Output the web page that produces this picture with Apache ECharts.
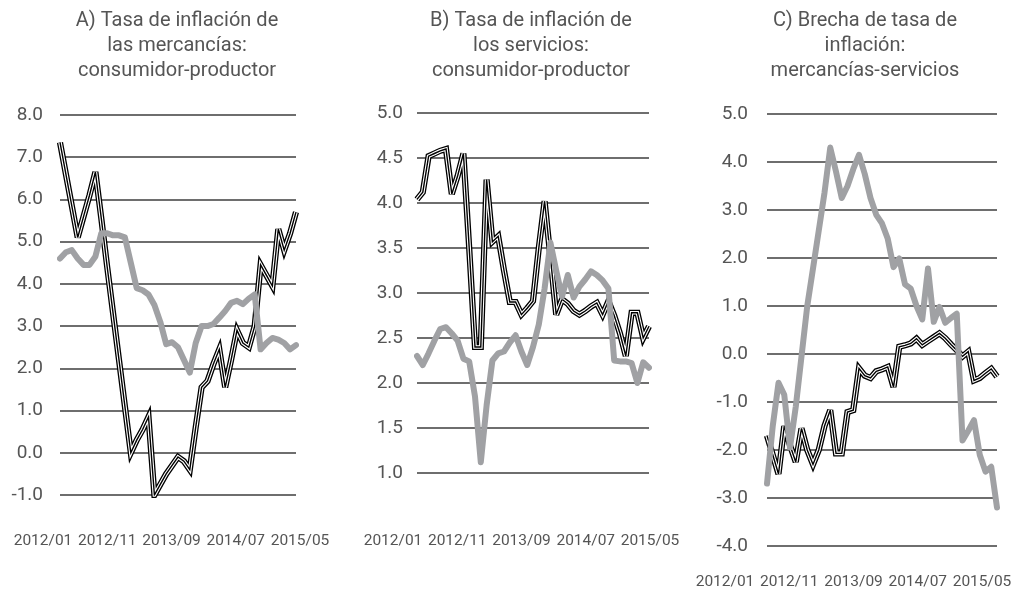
<!DOCTYPE html>
<html>
<head>
<meta charset="utf-8">
<script src="https://cdn.jsdelivr.net/npm/echarts@6/dist/echarts.min.js"></script>
<style>
    html, body { margin: 0; padding: 0; background: #fff; }
    #chart { width: 1017px; height: 594px; }
</style>
</head>
<body>
<div id="chart"></div>
<script>
// Meses 2012/01 - 2015/05
const months = [
    '2012/01', '2012/02', '2012/03', '2012/04', '2012/05', '2012/06', '2012/07', '2012/08', '2012/09', '2012/10', '2012/11', '2012/12',
    '2013/01', '2013/02', '2013/03', '2013/04', '2013/05', '2013/06', '2013/07', '2013/08', '2013/09', '2013/10', '2013/11', '2013/12',
    '2014/01', '2014/02', '2014/03', '2014/04', '2014/05', '2014/06', '2014/07', '2014/08', '2014/09', '2014/10', '2014/11', '2014/12',
    '2015/01', '2015/02', '2015/03', '2015/04', '2015/05'
];
const tickLabels = ['2012/01', '2012/11', '2013/09', '2014/07', '2015/05'];

// A) mercancías
const goodsBlack = [7.35, 6.6, 5.85, 5.1, 5.6, 6.1, 6.65, 5.55, 4.4, 3.3, 2.2, 1.1, 0.0, 0.3, 0.55, 0.85, -1.0, -0.75, -0.5, -0.3,
    -0.1, -0.2, -0.4, 0.6, 1.55, 1.7, 2.1, 2.45, 1.55, 2.2, 2.9, 2.6, 2.5, 3.0, 4.45, 4.2, 3.95, 5.3, 4.8, 5.2, 5.7];
const goodsGray = [4.6, 4.75, 4.8, 4.6, 4.45, 4.45, 4.65, 5.2, 5.2, 5.15, 5.15, 5.1, 4.5, 3.9, 3.85, 3.75, 3.5, 3.1, 2.57, 2.62,
    2.5, 2.2, 1.9, 2.6, 3.0, 3.0, 3.05, 3.2, 3.36, 3.55, 3.6, 3.52, 3.65, 3.75, 2.45, 2.6, 2.72, 2.68, 2.6, 2.45, 2.55];

// B) servicios
const servicesBlack = [4.04, 4.12, 4.52, 4.55, 4.58, 4.6, 4.1, 4.3, 4.55, 3.5, 2.4, 2.4, 4.26, 3.57, 3.63, 3.25, 2.9, 2.9, 2.76, 2.83,
    2.91, 3.5, 4.02, 3.4, 2.76, 2.93, 2.88, 2.8, 2.76, 2.8, 2.85, 2.89, 2.76, 2.91, 2.75, 2.55, 2.3, 2.78, 2.78, 2.5, 2.63];
const servicesGray = [2.3, 2.2, 2.33, 2.47, 2.6, 2.62, 2.55, 2.47, 2.27, 2.24, 1.85, 1.12, 1.75, 2.25, 2.33, 2.35, 2.45, 2.53, 2.35, 2.2,
    2.4, 2.65, 3.05, 3.56, 3.25, 2.96, 3.2, 2.95, 3.07, 3.15, 3.24, 3.2, 3.14, 3.05, 2.25, 2.24, 2.24, 2.22, 2.0, 2.23, 2.17];

// C) brecha mercancías-servicios
const gapBlack = [-1.7, -2.1, -2.5, -1.5, -1.9, -2.25, -1.55, -2.0, -2.3, -2.0, -1.5, -1.17, -2.07, -2.07, -1.21, -1.17, -0.3, -0.45, -0.5, -0.36,
    -0.32, -0.27, -0.69, 0.15, 0.18, 0.22, 0.32, 0.19, 0.27, 0.35, 0.43, 0.33, 0.2, 0.08, -0.05, 0.05, -0.55, -0.5, -0.4, -0.31, -0.47];
const gapGray = [-2.7, -1.5, -0.6, -0.85, -1.95, -1.1, -0.05, 1.0, 1.78, 2.57, 3.36, 4.3, 3.8, 3.25, 3.5, 3.85, 4.15, 3.75, 3.25, 2.9,
    2.72, 2.4, 1.81, 1.99, 1.45, 1.36, 1.0, 0.72, 1.78, 0.67, 0.98, 0.65, 0.75, 0.84, -1.8, -1.6, -1.38, -2.1, -2.45, -2.35, -3.2];

const TEXT_COLOR = '#555555';
const GRID_COLOR = '#6e6e6e';
const GRAY_COLOR = '#a0a1a4';
const FONT = 'Roboto, sans-serif';

// Configuración de cada panel
const panels = [
    {
        title: 'A) Tasa de inflación de\nlas mercancías:\nconsumidor-productor', titleX: 172,
        left: 60, width: 236, top: 115, height: 380, min: -1, max: 8, interval: 1, labelMargin: 17,
        tickLeft: 43, tickTop: 520, black: goodsBlack, gray: goodsGray
    },
    {
        title: 'B) Tasa de inflación de\nlos servicios:\nconsumidor-productor', titleX: 526,
        left: 417, width: 232, top: 113, height: 360, min: 1, max: 5, interval: 0.5, labelMargin: 14,
        tickLeft: 393, tickTop: 520, black: servicesBlack, gray: servicesGray
    },
    {
        title: 'C) Brecha de tasa de\ninflación:\nmercancías-servicios', titleX: 860,
        left: 767, width: 230, top: 114, height: 432, min: -4, max: 5, interval: 1, labelMargin: 19,
        tickLeft: 725, tickTop: 561, black: gapBlack, gray: gapGray
    }
];

const grid = [];
const xAxis = [];
const yAxis = [];
const series = [];
const title = [];
const n = panels.length;

panels.forEach((p, i) => {
    title.push({
        text: p.title,
        left: p.titleX,
        textAlign: 'center',
        top: 3,
        textStyle: { fontFamily: FONT, fontSize: 20, fontWeight: 'normal', lineHeight: 25, color: TEXT_COLOR }
    });

    // Área de trazado
    grid.push({ left: p.left, top: p.top, width: p.width, height: p.height });
    xAxis.push({
        type: 'category', gridIndex: i, data: months, boundaryGap: false,
        axisLine: { show: false }, axisTick: { show: false }, axisLabel: { show: false }, splitLine: { show: false }
    });
    yAxis.push({
        type: 'value', gridIndex: i, min: p.min, max: p.max, interval: p.interval,
        axisLine: { show: false }, axisTick: { show: false },
        axisLabel: { margin: p.labelMargin, color: TEXT_COLOR, fontFamily: FONT, fontSize: 19, formatter: v => v.toFixed(1) },
        splitLine: { lineStyle: { color: GRID_COLOR, width: 2 } }
    });

    // Línea negra doble: capas negra / blanca / negra
    const layers = [
        { color: '#000000', width: 6.2 },
        { color: '#ffffff', width: 3.6 },
        { color: '#000000', width: 1.4 }
    ];
    layers.forEach(l => {
        series.push({
            type: 'line', xAxisIndex: i, yAxisIndex: i, data: p.black, showSymbol: false, symbol: 'none',
            silent: true, animation: false,
            lineStyle: { color: l.color, width: l.width, join: 'miter', miterLimit: 4 }
        });
    });

    series.push({
        type: 'line', xAxisIndex: i, yAxisIndex: i, data: p.gray, showSymbol: false, symbol: 'none',
        silent: true, animation: false,
        lineStyle: { color: GRAY_COLOR, width: 6, join: 'round', cap: 'round' }
    });
});

// Ejes auxiliares solo para las etiquetas de fecha
panels.forEach((p, i) => {
    grid.push({ left: p.tickLeft, top: p.tickTop, width: 257, height: 2 });
    xAxis.push({
        type: 'category', gridIndex: n + i, data: tickLabels, boundaryGap: false,
        axisLine: { show: false }, axisTick: { show: false }, splitLine: { show: false },
        axisLabel: { interval: 0, margin: 11, color: TEXT_COLOR, fontFamily: FONT, fontSize: 15.5 }
    });
    yAxis.push({ type: 'value', gridIndex: n + i, show: false });
});

const chart = echarts.init(document.getElementById('chart'), null, { renderer: 'canvas' });
chart.setOption({
    animation: false,
    backgroundColor: '#ffffff',
    title: title,
    grid: grid,
    xAxis: xAxis,
    yAxis: yAxis,
    series: series
});
</script>
</body>
</html>
